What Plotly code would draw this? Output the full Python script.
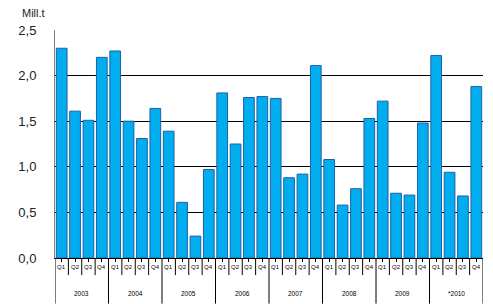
import plotly.graph_objects as go

years = ["2003", "2004", "2005", "2006", "2007", "2008", "2009", "*2010"]
quarters = ["Q1", "Q2", "Q3", "Q4"]
values = [2.30, 1.61, 1.51, 2.20,
          2.27, 1.50, 1.31, 1.64,
          1.39, 0.61, 0.24, 0.97,
          1.81, 1.25, 1.76, 1.77,
          1.75, 0.88, 0.92, 2.11,
          1.08, 0.58, 0.76, 1.53,
          1.72, 0.71, 0.69, 1.48,
          2.22, 0.94, 0.68, 1.88]
y_ticks = [0, 0.5, 1.0, 1.5, 2.0, 2.5]
y_ticktext = ["0,0", "0,5", "1,0", "1,5", "2,0", "2,5"]

n = len(values)
xs = list(range(n))
qlabels = [quarters[i % 4] for i in xs]

fig = go.Figure()
fig.add_trace(go.Bar(
    x=xs, y=values, width=0.8,
    marker=dict(color="#00AEEF", line=dict(color="#1F5FA8", width=1)),
))

shapes = []
for i in range(n + 1):
    xpos = i - 0.5
    y0 = -0.2 if i % 4 == 0 else -0.075
    shapes.append(dict(type="line", xref="x", yref="paper", x0=xpos, x1=xpos,
                       y0=0, y1=y0, line=dict(color="black", width=1)))

annotations = []
for k, yr in enumerate(years):
    annotations.append(dict(x=4 * k + 1.5, y=-0.155, xref="x", yref="paper",
                            text=yr, showarrow=False,
                            font=dict(size=6.5, color="black", family="Arial"),
                            xanchor="center", yanchor="middle"))
for i, q in enumerate(qlabels):
    annotations.append(dict(x=i, y=-0.04, xref="x", yref="paper",
                            text=q, showarrow=False,
                            font=dict(size=6, color="black", family="Arial"),
                            xanchor="center", yanchor="middle"))
annotations.append(dict(x=-0.082, y=1.075, xref="paper", yref="paper",
                        text="Mill.t", showarrow=False,
                        font=dict(size=11, color="#222222", family="Arial"),
                        xanchor="left", yanchor="middle"))

fig.update_layout(
    width=493, height=304,
    margin=dict(l=55, r=10, t=30, b=46),
    paper_bgcolor="white", plot_bgcolor="white",
    showlegend=False,
    shapes=shapes,
    annotations=annotations,
    xaxis=dict(range=[-0.5, n - 0.5], tickvals=xs, ticktext=[""] * n,
               ticks="outside", ticklen=3, tickcolor="black",
               showgrid=False, showline=True, linecolor="black", linewidth=1,
               zeroline=False, fixedrange=True),
    yaxis=dict(range=[0, 2.5], tickvals=y_ticks, ticktext=y_ticktext,
               showgrid=True, gridcolor="black", gridwidth=1,
               showline=True, linecolor="#808080", linewidth=1,
               zeroline=False, ticks="", ticklabelstandoff=15,
               tickfont=dict(size=13, color="#222222", family="Arial"),
               fixedrange=True),
)

fig.write_html("out.html")
